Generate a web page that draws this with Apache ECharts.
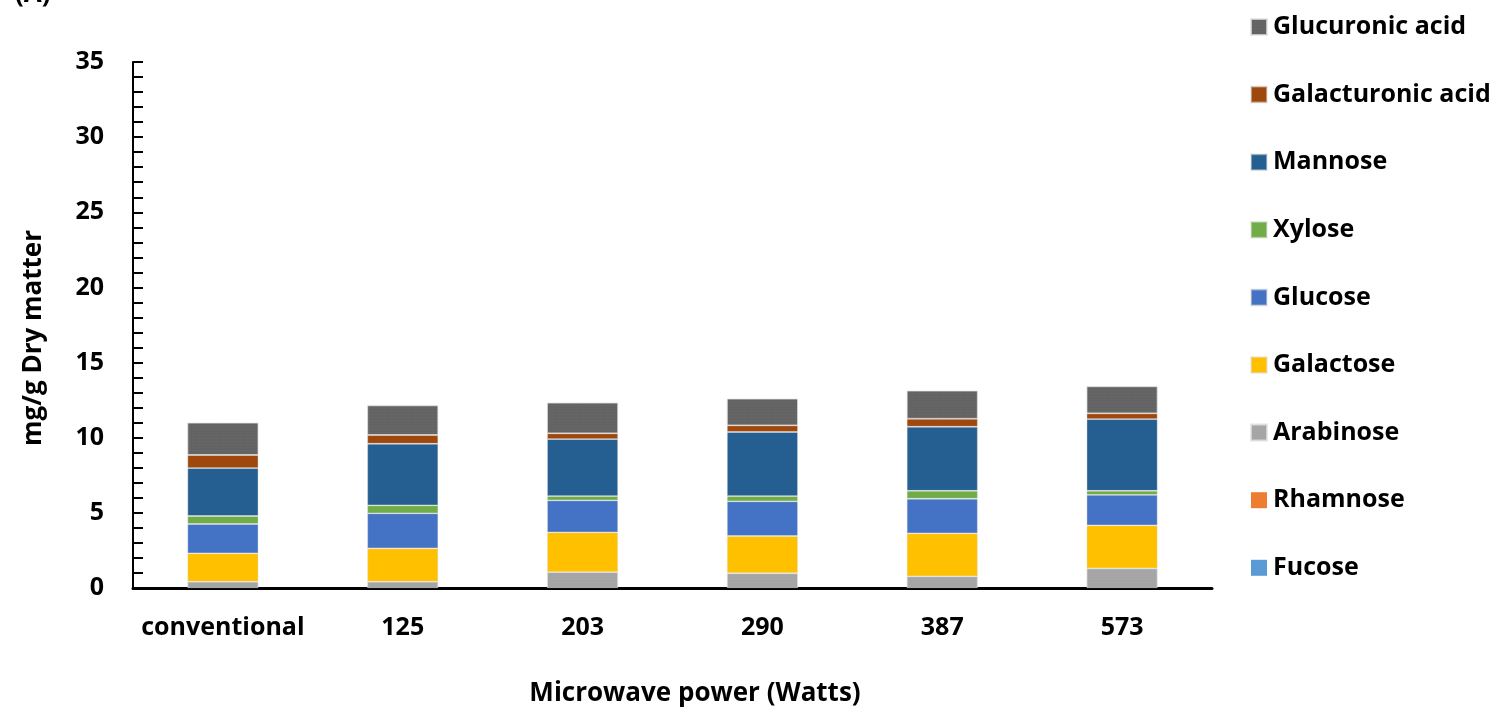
<!DOCTYPE html>
<html>
<head>
<meta charset="utf-8">
<script src="https://cdn.jsdelivr.net/npm/echarts@6/dist/echarts.min.js"></script>
<style>
html,body{margin:0;padding:0;background:#fff;}
#chart{width:1497px;height:710px;}
</style>
</head>
<body>
<div id="chart"></div>
<script>
const categories = ['conventional', '125', '203', '290', '387', '573'];
const fucose       = [0, 0, 0, 0, 0, 0];
const rhamnose     = [0, 0, 0, 0, 0, 0];
const arabinose    = [0.42, 0.42, 1.06, 0.98, 0.78, 1.31];
const galactose    = [1.89, 2.22, 2.64, 2.48, 2.86, 2.86];
const glucose      = [1.95, 2.33, 2.13, 2.31, 2.30, 2.02];
const xylose       = [0.53, 0.53, 0.29, 0.35, 0.53, 0.28];
const mannose      = [3.19, 4.10, 3.79, 4.26, 4.26, 4.77];
const galacturonic = [0.87, 0.58, 0.38, 0.44, 0.53, 0.38];
const glucuronic   = [2.15, 1.97, 2.04, 1.78, 1.87, 1.80];
const yTicks = [0, 5, 10, 15, 20, 25, 30, 35];

const FONT = '"Open Sans", sans-serif';
const seriesDefs = [
  {name: 'Fucose', data: fucose, color: '#5B9BD5'},
  {name: 'Rhamnose', data: rhamnose, color: '#ED7D31'},
  {name: 'Arabinose', data: arabinose, color: '#A5A5A5', decal: true},
  {name: 'Galactose', data: galactose, color: '#FFC000'},
  {name: 'Glucose', data: glucose, color: '#4472C4'},
  {name: 'Xylose', data: xylose, color: '#70AD47'},
  {name: 'Mannose', data: mannose, color: '#255E91'},
  {name: 'Galacturonic acid', data: galacturonic, color: '#9E480E'},
  {name: 'Glucuronic acid', data: glucuronic, color: '#636363', decal: true}
];

function makeItemStyle(s) {
  const hasData = s.data.some(v => v > 0);
  const st = {color: s.color, borderColor: 'rgba(225,225,225,0.5)', borderWidth: hasData ? 0.8 : 0};
  if (s.decal) {
    st.decal = {symbol: 'rect', symbolSize: 0.6, dashArrayX: [2, 1], dashArrayY: [1, 2], color: 'rgba(255,255,255,0.12)'};
  }
  return st;
}

const chart = echarts.init(document.getElementById('chart'), null, {renderer: 'canvas'});
chart.setOption({
  animation: false,
  backgroundColor: '#fff',
  graphic: [
    {type: 'text', left: 15, top: -18, style: {text: '(A)', font: 'bold 26px ' + FONT, fill: '#000'}},
    {type: 'text', x: 695, y: 694, style: {text: 'Microwave power (Watts)', font: 'bold 26px ' + FONT, fill: '#000', align: 'center', verticalAlign: 'middle'}},
    {type: 'text', x: 34, y: 338, rotation: Math.PI / 2, style: {text: 'mg/g Dry matter', font: 'bold 26px ' + FONT, fill: '#000', align: 'center', verticalAlign: 'middle'}}
  ],
  grid: {left: 133, right: 285, top: 62, bottom: 122},
  legend: {
    orient: 'vertical',
    left: 1245, top: 7,
    itemWidth: 16, itemHeight: 16, itemGap: 37.6,
    icon: 'rect',
    data: seriesDefs.slice().reverse().map(s => s.name),
    textStyle: {fontFamily: FONT, fontWeight: 'bold', fontSize: 25, color: '#000', lineHeight: 30, padding: [0, 0, 0, 1]}
  },
  xAxis: {
    type: 'category',
    data: categories,
    axisLine: {lineStyle: {color: '#000', width: 3}},
    axisTick: {show: false},
    axisLabel: {interval: 0, fontFamily: FONT, fontWeight: 'bold', fontSize: 25, color: '#000', margin: 27}
  },
  yAxis: {
    type: 'value',
    min: 0, max: 35, interval: 5,
    axisLine: {show: true, lineStyle: {color: '#000', width: 2}},
    axisTick: {show: true, inside: true, length: 10, lineStyle: {color: '#000', width: 2}},
    minorTick: {show: true, splitNumber: 5, length: 10, lineStyle: {color: '#000', width: 2}},
    splitLine: {show: false},
    axisLabel: {
      fontFamily: FONT, fontWeight: 'bold', fontSize: 25, color: '#000', margin: 29,
      formatter: v => yTicks.includes(v) ? String(v) : ''
    }
  },
  series: seriesDefs.map(s => ({
    name: s.name,
    type: 'bar',
    stack: 'total',
    barWidth: 71,
    data: s.data,
    itemStyle: makeItemStyle(s)
  }))
});
</script>
</body>
</html>
